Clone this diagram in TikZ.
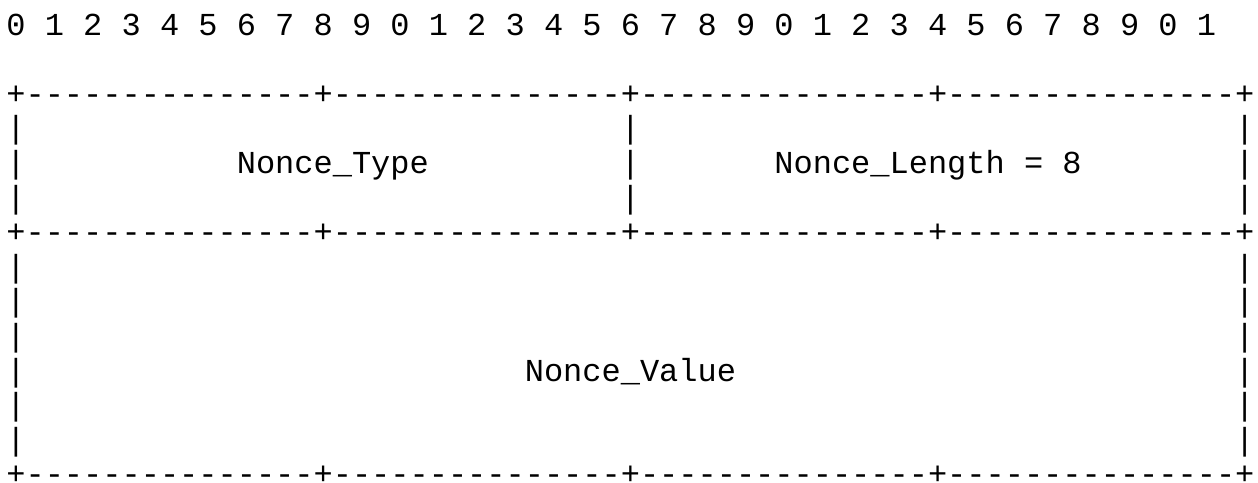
\documentclass[tikz,border=0pt]{standalone}
\usepackage{fontspec}
\newfontfamily\asciifont{Liberation Mono}
\begin{document}
\begin{tikzpicture}[x=1pt,y=-1pt,
  ch/.style={anchor=base, inner sep=0pt, outer sep=0pt, font=\asciifont\fontsize{32}{34.6}\selectfont},
  lbl/.style={anchor=base west, inner sep=0pt, outer sep=0pt, font=\asciifont\fontsize{32}{34.6}\selectfont}]
\useasboundingbox (0,0) rectangle (1258,482);
% bit numbers
\foreach \i [evaluate=\i as \d using {int(mod(\i,10))}] in {0,...,31}
  \node[ch] (d\i) at ({16+38.4*\i},35) {\d};
% border rows
\foreach \r in {2,6,13}{
  \foreach \c in {0,...,64}{
    \pgfmathtruncatemacro\m{mod(\c,16)}
    \ifnum\m=0
      \node[ch] (b\r-\c) at ({16+19.2*\c},{35+34.6*\r}) {+};
    \else
      \node[ch] (b\r-\c) at ({16+19.2*\c},{35+34.6*\r}) {-};
    \fi
  }
}
% vertical bars, first word
\foreach \r in {3,4,5}
  \foreach \c in {0,32,64}
    \node[ch] (v\r-\c) at ({16+19.2*\c},{35+34.6*\r}) {|};
% vertical bars, second word
\foreach \r in {7,...,12}
  \foreach \c in {0,64}
    \node[ch] (v\r-\c) at ({16+19.2*\c},{35+34.6*\r}) {|};
% labels
\node[lbl] (ntype) at ({6.4+19.2*12},{35+34.6*4}) {Nonce\_Type};
\node[lbl] (nlength) at ({6.4+19.2*40},{35+34.6*4}) {Nonce\_Length = 8};
\node[lbl] (nvalue) at ({6.4+19.2*27},{35+34.6*10}) {Nonce\_Value};
\end{tikzpicture}
\end{document}
